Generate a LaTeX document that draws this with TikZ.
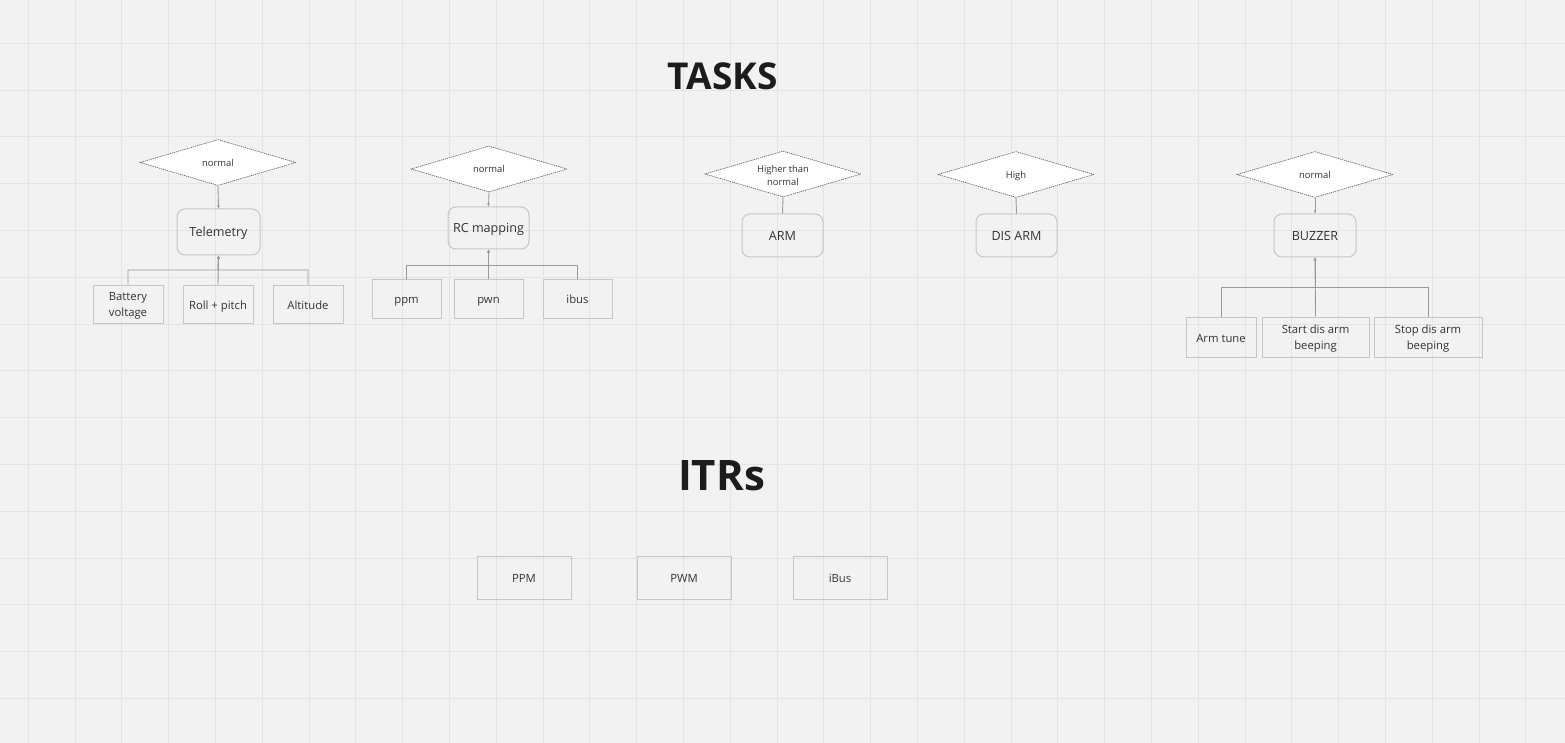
\documentclass[tikz,border=0pt]{standalone}
\usepackage{fontspec}
\setmainfont{Open Sans}
\usetikzlibrary{arrows.meta, shapes.geometric, calc}
\definecolor{cbg}{HTML}{F2F2F2}
\definecolor{cgrid}{HTML}{E4E4E4}
\definecolor{cedge}{HTML}{C6C6C6}
\definecolor{cline}{HTML}{9A9A9A}
\definecolor{ctext}{HTML}{333333}
\definecolor{ctitle}{HTML}{1C1C1C}
\tikzset{
  every picture/.style={line width=1pt},
  oneline/.style={text height=1em, text depth=0pt},
  twoline/.style={text height=28pt, text depth=2.7pt},
  task/.style={draw=cedge, rounded corners=8pt, text=ctext, align=center, inner sep=2pt, oneline, font=\fontsize{12.6}{16}\selectfont},
  leaf/.style={draw=cedge, text=ctext, align=center, inner sep=2pt, minimum height=38pt, oneline, font=\fontsize{11.3}{16}\selectfont},
  prio/.style={diamond, draw=black!65, fill=white, dash pattern=on 1.2pt off 0.8pt, line width=0.6pt, aspect=3.4, inner sep=0pt, minimum width=156pt, minimum height=46pt, text=ctext, align=center, text height=0.72em, text depth=0pt, font=\fontsize{9.4}{13}\selectfont},
  conn/.style={draw=cline, line width=0.9pt, -{Latex[length=3pt, width=3pt]}},
  title/.style={font=\bfseries\fontsize{37}{40}\selectfont, text=ctitle},
}
\begin{document}
\begin{tikzpicture}[x=1pt, y=-1pt]
  % canvas
  \useasboundingbox (0,0) rectangle (1565,743);
  \fill[cbg] (0,0) rectangle (1565,743);
  \foreach \i in {0,...,32} \draw[cgrid, line width=0.9pt] ({28.3+46.8*\i},0) -- ({28.3+46.8*\i},743);
  \foreach \j in {0,...,14} \draw[cgrid, line width=0.9pt] (0,{43.3+46.8*\j}) -- (1565,{43.3+46.8*\j});
  % titles
  \node[title] (tasks) at (722.5,76.5) {TASKS};
  \node[title, font=\bfseries\fontsize{42}{45}\selectfont] (itrs) at (721.5,475.5) {ITRs};
  % telemetry
  \node[prio] (p1) at (218,162.5) {normal};
  \node[task, minimum width=83pt, minimum height=46pt] (tel) at (218.5,232) {Telemetry};
  \node[leaf, twoline, minimum width=70pt] (bat) at (128,304) {Battery\\voltage};
  \node[leaf, minimum width=70pt] (rp) at (218,304) {Roll + pitch};
  \node[leaf, minimum width=70pt] (alt) at (308,304) {Altitude};
  \coordinate (telj) at (218,270);
  \draw[conn] (p1.south) -- (tel.north);
  \draw[conn] (bat.north) |- (telj) -- (tel.south);
  \draw[conn] (alt.north) |- (telj) -- (tel.south);
  \draw[conn] (rp.north) -- (tel.south);
  % rc mapping
  \node[prio] (p2) at (489,169) {normal};
  \node[task, minimum width=81pt, minimum height=42pt] (rc) at (488.5,228) {RC mapping};
  \node[leaf, minimum width=69pt, minimum height=39pt] (ppm) at (406.5,298.5) {ppm};
  \node[leaf, minimum width=69pt, minimum height=39pt] (pwn) at (488.5,298.5) {pwn};
  \node[leaf, minimum width=69pt, minimum height=39pt] (ibus) at (577.5,298.5) {ibus};
  \coordinate (rcj) at (488.5,265);
  \draw[conn] (p2.south) -- (rc.north);
  \draw[conn] (ppm.north) |- (rcj) -- (rc.south);
  \draw[conn] (ibus.north) |- (rcj) -- (rc.south);
  \draw[conn] (pwn.north) -- (rc.south);
  % arm / dis arm
  \node[prio, text height=24pt, text depth=0pt] (p3) at (783,174) {Higher than\\normal};
  \node[task, minimum width=81pt, minimum height=43pt] (arm) at (782.5,235.5) {ARM};
  \draw[conn, -] (p3.south) -- (arm.north);
  \node[prio] (p4) at (1016,174.5) {High};
  \node[task, minimum width=81pt, minimum height=43pt] (disarm) at (1016.5,235.5) {DIS ARM};
  \draw[conn, -] (p4.south) -- (disarm.north);
  % buzzer
  \node[prio] (p5) at (1315,174.5) {normal};
  \node[task, minimum width=82pt, minimum height=43pt] (buz) at (1315,235.5) {BUZZER};
  \node[leaf, minimum width=70pt, minimum height=40pt] (tune) at (1221,337) {Arm tune};
  \node[leaf, twoline, minimum width=107pt, minimum height=40pt] (start) at (1315.5,337) {Start dis arm\\beeping};
  \node[leaf, twoline, minimum width=108pt, minimum height=40pt] (stop) at (1428,337) {Stop dis arm\\beeping};
  \coordinate (buzj) at (1315,287);
  \draw[conn] (p5.south) -- (buz.north);
  \draw[conn] (tune.north) |- (buzj) -- (buz.south);
  \draw[conn] (stop.north) |- (buzj) -- (buz.south);
  \draw[conn] (start.north) -- (buz.south);
  % interrupts
  \node[leaf, minimum width=94pt, minimum height=43pt] (ippm) at (524,577.5) {PPM};
  \node[leaf, minimum width=94pt, minimum height=43pt] (ipwm) at (684,577.5) {PWM};
  \node[leaf, minimum width=94pt, minimum height=43pt] (ibusi) at (840,577.5) {iBus};
\end{tikzpicture}
\end{document}
